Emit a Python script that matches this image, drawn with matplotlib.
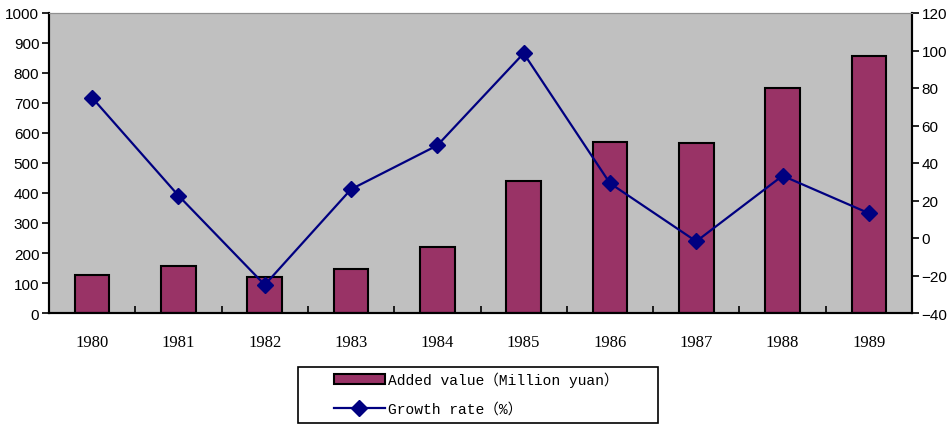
import numpy as np
from matplotlib import pyplot as plt
from matplotlib.lines import Line2D
from matplotlib.patches import Patch, Rectangle

years = ['1980', '1981', '1982', '1983', '1984', '1985', '1986', '1987', '1988', '1989']
added_value = [127, 158, 119, 147, 219, 439, 571, 566, 751, 858]
growth_rate = [74.8, 22.6, -25.0, 26.0, 49.4, 98.5, 29.2, -1.8, 33.2, 13.2]

bar_label = 'Added value\uff08Million yuan\uff09'
line_label = 'Growth rate\uff08%\uff09'

fig = plt.figure(figsize=(9.49, 4.27), dpi=100)
ax = fig.add_axes([49/949, 1-314/427, 863/949, 300/427])
ax.set_facecolor('#c0c0c0')

x = np.arange(len(years))
ax.bar(x, added_value, width=0.4, color='#993366', edgecolor='black', linewidth=1.5, zorder=2)
ax.set_xlim(-0.5, len(years)-0.5)
ax.set_ylim(0, 1000)
ax.set_yticks(np.arange(0, 1001, 100))

ax2 = ax.twinx()
ax2.plot(x, growth_rate, color='#000080', lw=1.6, marker='D', ms=8, zorder=3)
ax2.set_ylim(-40, 120)
ax2.set_yticks(np.arange(-40, 121, 20))

# category labels, ticks between categories pointing inward
ax.set_xticks(x)
ax.set_xticklabels(years, family='Liberation Serif', fontsize=12)
ax.tick_params(axis='x', which='major', length=0, pad=15)
ax.set_xticks(np.arange(0.5, len(years)-1, 1), minor=True)
ax.tick_params(axis='x', which='minor', direction='in', length=5, width=1.2)

for a in (ax, ax2):
    a.tick_params(axis='y', labelsize=11, length=5, width=1.2, pad=2)
    for lab in a.get_yticklabels():
        lab.set_family('Liberation Sans')
    a.spines['top'].set_color('#909090')
    a.spines['left'].set_linewidth(1.5)
    a.spines['bottom'].set_linewidth(1.5)
    a.spines['right'].set_linewidth(1.5)

# legend box
fig.patches.append(Rectangle((298/949, 3/427), 360/949, 56/427, transform=fig.transFigure,
                             fill=False, edgecolor='black', linewidth=1.2))
handles = [Patch(facecolor='#993366', edgecolor='black', linewidth=1.5),
           Line2D([], [], color='#000080', lw=1.6, marker='D', ms=8)]
fig.legend(handles, [bar_label, line_label], loc='center',
           bbox_to_anchor=(476/949, 32/427), frameon=False,
           handlelength=3.5, handletextpad=0.2, labelspacing=1.0,
           prop={'family': ['Liberation Mono', 'Noto Sans CJK SC'], 'size': 10.5})

fig.savefig('out.png', dpi=100)
